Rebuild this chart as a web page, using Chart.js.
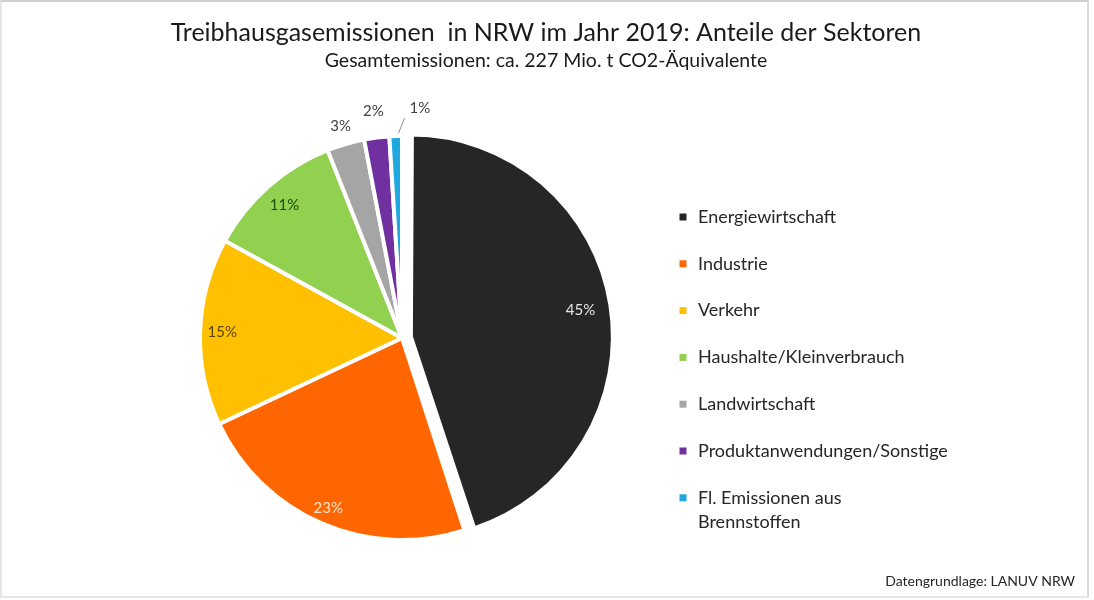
<!DOCTYPE html>
<html>
<head>
<meta charset="utf-8">
<title>Treibhausgasemissionen NRW 2019</title>
<script src="https://cdn.jsdelivr.net/npm/chart.js@4.4.1/dist/chart.umd.min.js"></script>
<style>
  html, body { margin: 0; padding: 0; background: #fff; }
  #wrap { position: relative; width: 1094px; height: 600px; overflow: hidden; }
  #chart { position: absolute; left: 0; top: 0; }
  #frame {
    position: absolute; left: 0; top: 0; width: 1089px; height: 598px;
    box-sizing: border-box; pointer-events: none;
    border-top: 2px solid #cfcfcf; border-left: 2px solid #e6e6e6;
    border-right: 2px solid #dadada; border-bottom: 2px solid #e6e6e6;
  }
</style>
</head>
<body>
<div id="wrap">
  <canvas id="chart" width="1094" height="600"></canvas>
  <div id="frame"></div>
</div>
<script>
// data
const sectors = [
  "Energiewirtschaft",
  "Industrie",
  "Verkehr",
  "Haushalte/Kleinverbrauch",
  "Landwirtschaft",
  "Produktanwendungen/Sonstige",
  ["Fl. Emissionen aus", "Brennstoffen"],
];
const shares = [45, 23, 15, 11, 3, 2, 1];
const sectorColors = ["#262626", "#FF6600", "#FFC000", "#92D050", "#A5A5A5", "#7030A0", "#1FA8E0"];
const labelColors = ["#E6E6E6", "#FFE2CC", "#5A4500", "#1E4A00", "#404040", "#404040", "#404040"];
const sliceOffsets = [36, 0, 0, 0, 0, 0, 0]; // chart.js draws offset / 4

const titleText = "Treibhausgasemissionen  in NRW im Jahr 2019: Anteile der Sektoren";
const subtitleText = "Gesamtemissionen: ca. 227 Mio. t CO2-Äquivalente";
const sourceText = "Datengrundlage: LANUV NRW";

const FONT = "Lato, 'Open Sans', sans-serif";
const TEXT = "#262626";

// where each percent label sits, as a share of the radius (0 = leader line)
const labelRadius = [0.85, 0.92, 0.89, 0.88, 1.09, 1.13, 0];

// Chart.js grows the radius of an offset slice a bit, undo that while drawing
const offsetFix = {
  id: "offsetFix",
  beforeDatasetDraw(chart) {
    const meta = chart.getDatasetMeta(0);
    meta.data.forEach((arc, i) => {
      const off = (sliceOffsets[i] || 0) / 4;
      if (!off) return;
      const circ = arc.endAngle - arc.startAngle;
      const fix = 1 - Math.sin(Math.min(Math.PI, circ));
      arc._baseR = arc.outerRadius;
      arc.outerRadius = arc.outerRadius - off * fix;
    });
  },
  afterDatasetDraw(chart) {
    chart.getDatasetMeta(0).data.forEach(arc => {
      if (arc._baseR !== undefined) {
        arc.outerRadius = arc._baseR;
        delete arc._baseR;
      }
    });
  },
};

const sliceLabels = {
  id: "sliceLabels",
  afterDatasetsDraw(chart) {
    const { ctx } = chart;
    const meta = chart.getDatasetMeta(0);
    const data = chart.data.datasets[0].data;
    ctx.save();
    ctx.font = "15px " + FONT;
    ctx.textBaseline = "middle";
    meta.data.forEach((arc, i) => {
      const p = arc.getProps(["x", "y", "startAngle", "endAngle", "outerRadius"]);
      const mid = (p.startAngle + p.endAngle) / 2;
      const off = (sliceOffsets[i] || 0) / 4;
      const cx = p.x + Math.cos(mid) * off;
      const cy = p.y + Math.sin(mid) * off;
      const text = data[i] + "%";
      ctx.fillStyle = labelColors[i];
      if (labelRadius[i] === 0) {
        const sx = cx + Math.cos(mid) * (p.outerRadius + 3) + 3;
        const sy = cy + Math.sin(mid) * (p.outerRadius + 3);
        const ex = sx + 6, ey = sy - 15;
        ctx.strokeStyle = "#8c8c8c";
        ctx.lineWidth = 1;
        ctx.beginPath();
        ctx.moveTo(sx, sy);
        ctx.lineTo(ex, ey);
        ctx.stroke();
        ctx.textAlign = "left";
        ctx.fillText(text, ex + 5, ey - 10);
      } else {
        const r = p.outerRadius * labelRadius[i];
        ctx.textAlign = "center";
        ctx.fillText(text, cx + Math.cos(mid) * r, cy + Math.sin(mid) * r);
      }
    });
    ctx.restore();
  },
};

// titles, legend and source note
const legendX = 683, legendTop = 217, legendStep = 46.8, legendLineH = 24;
const sideNotes = {
  id: "sideNotes",
  afterDraw(chart) {
    const { ctx } = chart;
    ctx.save();
    ctx.fillStyle = "#1a1a1a";
    ctx.textBaseline = "middle";
    ctx.textAlign = "center";
    ctx.font = "25px " + FONT;
    ctx.fillText(titleText, 546, 33);
    ctx.font = "19.5px " + FONT;
    ctx.fillText(subtitleText, 546, 61);

    ctx.font = "18px " + FONT;
    ctx.textAlign = "left";
    chart.data.labels.forEach((lab, i) => {
      const y = legendTop + i * legendStep;
      ctx.fillStyle = sectorColors[i];
      ctx.fillRect(legendX - 3.5, y - 3.5, 7, 7);
      ctx.fillStyle = TEXT;
      const lines = Array.isArray(lab) ? lab : [lab];
      lines.forEach((t, k) => ctx.fillText(t, legendX + 15, y + k * legendLineH));
    });
    ctx.font = "14px " + FONT;
    ctx.textAlign = "right";
    ctx.fillText(sourceText, 1075, 581);
    ctx.restore();
  },
};

new Chart(document.getElementById("chart"), {
  type: "pie",
  data: {
    labels: sectors,
    datasets: [{
      data: shares,
      backgroundColor: sectorColors,
      borderColor: "#ffffff",
      borderWidth: 4,
      offset: sliceOffsets,
      hoverOffset: 0,
    }],
  },
  options: {
    responsive: false,
    devicePixelRatio: 1,
    animation: false,
    radius: 202,
    layout: { padding: { left: 190, right: 480, top: 80, bottom: 4 } },
    plugins: {
      legend: { display: false },
      tooltip: { enabled: false },
      title: { display: false },
    },
  },
  plugins: [offsetFix, sliceLabels, sideNotes],
});
</script>
</body>
</html>
